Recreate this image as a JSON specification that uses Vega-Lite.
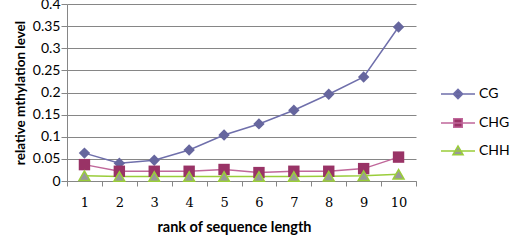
{
  "$schema": "https://vega.github.io/schema/vega-lite/v6.json",
  "autosize": "none",
  "width": 349,
  "height": 177,
  "padding": {"left": 67, "top": 4, "right": 97, "bottom": 59},
  "background": "white",
  "config": {
    "view": {"stroke": null},
    "font": "Lato",
    "axis": {"domainColor": "#868686", "tickColor": "#868686", "gridColor": "#868686", "labelColor": "#000", "titleColor": "#000"}
  },
  "data": {
    "values": [
      {"rank": "1", "series": "CG", "value": 0.063},
      {"rank": "2", "series": "CG", "value": 0.040},
      {"rank": "3", "series": "CG", "value": 0.047},
      {"rank": "4", "series": "CG", "value": 0.070},
      {"rank": "5", "series": "CG", "value": 0.104},
      {"rank": "6", "series": "CG", "value": 0.129},
      {"rank": "7", "series": "CG", "value": 0.160},
      {"rank": "8", "series": "CG", "value": 0.196},
      {"rank": "9", "series": "CG", "value": 0.235},
      {"rank": "10", "series": "CG", "value": 0.348},
      {"rank": "1", "series": "CHG", "value": 0.037},
      {"rank": "2", "series": "CHG", "value": 0.022},
      {"rank": "3", "series": "CHG", "value": 0.022},
      {"rank": "4", "series": "CHG", "value": 0.022},
      {"rank": "5", "series": "CHG", "value": 0.026},
      {"rank": "6", "series": "CHG", "value": 0.019},
      {"rank": "7", "series": "CHG", "value": 0.022},
      {"rank": "8", "series": "CHG", "value": 0.022},
      {"rank": "9", "series": "CHG", "value": 0.028},
      {"rank": "10", "series": "CHG", "value": 0.054},
      {"rank": "1", "series": "CHH", "value": 0.012},
      {"rank": "2", "series": "CHH", "value": 0.010},
      {"rank": "3", "series": "CHH", "value": 0.010},
      {"rank": "4", "series": "CHH", "value": 0.010},
      {"rank": "5", "series": "CHH", "value": 0.010},
      {"rank": "6", "series": "CHH", "value": 0.010},
      {"rank": "7", "series": "CHH", "value": 0.010},
      {"rank": "8", "series": "CHH", "value": 0.011},
      {"rank": "9", "series": "CHH", "value": 0.012},
      {"rank": "10", "series": "CHH", "value": 0.015}
    ]
  },
  "encoding": {
    "x": {
      "field": "rank", "type": "ordinal", "sort": null,
      "scale": {"type": "band", "paddingInner": 0, "paddingOuter": 0},
      "axis": {
        "title": "rank of sequence length", "titleFont": "Lato", "titleFontSize": 14.5, "titleFontWeight": "bold",
        "titlePadding": 11, "titleX": 167,
        "labelFont": "DejaVu Serif", "labelFontSize": 13, "labelAngle": 0, "labelPadding": 10,
        "tickBand": "extent", "tickSize": 5, "grid": false
      }
    },
    "y": {
      "field": "value", "type": "quantitative",
      "scale": {"domain": [0, 0.4]},
      "axis": {
        "title": "relative mthylation level", "titleFont": "Lato", "titleFontSize": 13.5, "titleFontWeight": "bold",
        "values": [0, 0.05, 0.1, 0.15, 0.2, 0.25, 0.3, 0.35, 0.4], "format": "~g",
        "labelFont": "Lato", "labelFontSize": 14, "labelPadding": 1, "tickSize": 6,
        "grid": true, "gridColor": "#868686", "titlePadding": 5
      }
    }
  },
  "layer": [
    {
      "mark": {"type": "line", "strokeWidth": 1.5},
      "encoding": {
        "stroke": {
          "field": "series", "type": "nominal",
          "scale": {"domain": ["CG", "CHG", "CHH"], "range": ["#6F6FAB", "#C0679A", "#9ACD3A"]},
          "legend": {
            "title": null, "orient": "none", "legendX": 381.5, "legendY": 80.5,
            "padding": 0, "symbolSize": 289, "symbolStrokeWidth": 1.5, "labelOffset": 11.5,
            "rowPadding": 11, "labelFont": "Lato", "labelFontSize": 14, "labelColor": "#000",
            "encode": {
              "symbols": {
                "update": {
                  "shape": {"signal": "datum.value === 'CG' ? 'M-2,0H2M-0.55,0L0,-0.55L0.55,0L0,0.55Z' : datum.value === 'CHG' ? 'M-2,0H2M-0.5,-0.5H0.5V0.5H-0.5Z' : 'M-2,0H2M-0.6,0.45L0,-0.6L0.6,0.45Z'"},
                  "fill": {"signal": "datum.value === 'CG' ? '#66669E' : datum.value === 'CHG' ? '#993366' : '#999999'"},
                  "stroke": {"signal": "datum.value === 'CG' ? '#6F6FAB' : datum.value === 'CHG' ? '#C0679A' : '#9ACD3A'"},
                  "strokeWidth": {"value": 1.5},
                  "fillOpacity": {"value": 1},
                  "strokeOpacity": {"value": 1},
                  "opacity": {"value": 1}
                }
              }
            }
          }
        }
      }
    },
    {
      "transform": [{"filter": "datum.series === 'CG'"}],
      "mark": {"type": "point", "shape": "diamond", "filled": true, "opacity": 1, "size": 130, "fill": "#66669E", "strokeWidth": 0}
    },
    {
      "transform": [{"filter": "datum.series === 'CHG'"}],
      "mark": {"type": "point", "shape": "square", "filled": true, "opacity": 1, "size": 130, "fill": "#993366", "strokeWidth": 0}
    },
    {
      "transform": [{"filter": "datum.series === 'CHH'"}],
      "mark": {"type": "point", "shape": "triangle-up", "filled": true, "opacity": 1, "size": 120, "fill": "#999999", "stroke": "#9ACD3A", "strokeWidth": 1.5}
    }
  ]
}
